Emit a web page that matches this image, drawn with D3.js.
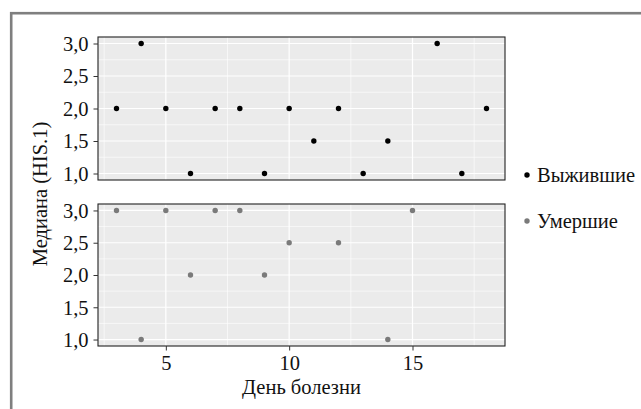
<!DOCTYPE html>
<html>
<head>
<meta charset="utf-8">
<script src="https://cdn.jsdelivr.net/npm/d3@7"></script>
<style>
  body { margin: 0; background: #fff; }
  svg { display: block; }
</style>
</head>
<body>
<script>
var width = 641,
    height = 409;

// data
const days_alive = [3, 4, 5, 6, 7, 8, 9, 10, 11, 12, 13, 14, 16, 17, 18];
const his_alive  = [2, 3, 2, 1, 2, 2, 1, 2, 1.5, 2, 1, 1.5, 3, 1, 2];
const days_dead  = [3, 4, 5, 6, 7, 8, 9, 10, 12, 14, 15];
const his_dead   = [3, 1, 3, 2, 3, 3, 2, 2.5, 2.5, 1, 3];

const groups = ["Выжившие", "Умершие"];
const colors = ["#000000", "#7a7a7a"];
const x_ticks = [5, 10, 15];
const y_ticks = [1, 1.5, 2, 2.5, 3];

const x_title = "День болезни";
const y_title = "Медиана (HIS.1)";

const FONT = "'Liberation Serif', 'Times New Roman', serif";
const FONT_SIZE = "20.5px";

const panel_left = 98, panel_right = 505;
const panels = [
    { top: 37, bottom: 180, days: days_alive, vals: his_alive },
    { top: 204, bottom: 346, days: days_dead, vals: his_dead }
];

const fmt = d3.formatLocale({ decimal: ",", thousands: " ", grouping: [3], currency: ["", ""] }).format(".1f");

const styleText = (sel) => {
    sel.style("font-family", FONT)
        .style("font-size", FONT_SIZE)
        .attr("fill", "#111");
};

const svg = d3.select("body").append("svg")
    .attr("width", width)
    .attr("height", height);

// outer frame
svg.append("rect")
    .attr("x", 11.2).attr("y", 13.2)
    .attr("width", width + 20).attr("height", height + 20)
    .attr("fill", "none")
    .attr("stroke", "#7f7f7f")
    .attr("stroke-width", 2.6);

const x = d3.scaleLinear()
    .domain([2.25, 18.75])
    .range([panel_left, panel_right]);

panels.forEach((p, i) => {
    const y = d3.scaleLinear().domain([0.9, 3.1]).range([p.bottom, p.top]);
    const g = svg.append("g");

    g.append("rect")
        .attr("x", panel_left).attr("y", p.top)
        .attr("width", panel_right - panel_left).attr("height", p.bottom - p.top)
        .attr("fill", "#ebebeb");

    // minor grid
    const x_minor = [2.5, 7.5, 12.5, 17.5];
    const y_minor = [1.25, 1.75, 2.25, 2.75];
    g.selectAll(".xminor").data(x_minor).enter().append("line")
        .attr("x1", d => x(d)).attr("x2", d => x(d))
        .attr("y1", p.top).attr("y2", p.bottom)
        .attr("stroke", "#fff").attr("stroke-width", 0.6);
    g.selectAll(".yminor").data(y_minor).enter().append("line")
        .attr("x1", panel_left).attr("x2", panel_right)
        .attr("y1", d => y(d)).attr("y2", d => y(d))
        .attr("stroke", "#fff").attr("stroke-width", 0.6);

    // major grid
    g.selectAll(".xmajor").data(x_ticks).enter().append("line")
        .attr("x1", d => x(d)).attr("x2", d => x(d))
        .attr("y1", p.top).attr("y2", p.bottom)
        .attr("stroke", "#fff").attr("stroke-width", 1.2);
    g.selectAll(".ymajor").data(y_ticks).enter().append("line")
        .attr("x1", panel_left).attr("x2", panel_right)
        .attr("y1", d => y(d)).attr("y2", d => y(d))
        .attr("stroke", "#fff").attr("stroke-width", 1.2);

    // points
    g.selectAll("circle")
        .data(p.days.map((d, k) => ({ day: d, v: p.vals[k] })))
        .enter().append("circle")
        .attr("cx", d => x(d.day))
        .attr("cy", d => y(d.v))
        .attr("r", 2.7)
        .attr("fill", colors[i]);

    g.append("rect")
        .attr("x", panel_left).attr("y", p.top)
        .attr("width", panel_right - panel_left).attr("height", p.bottom - p.top)
        .attr("fill", "none").attr("stroke", "#222").attr("stroke-width", 1.1);

    // y axis
    const ya = g.append("g")
        .attr("transform", "translate(" + panel_left + ",0)")
        .call(d3.axisLeft(y).tickValues(y_ticks).tickFormat(fmt).tickSize(4.5).tickPadding(5));
    ya.select(".domain").remove();
    ya.selectAll(".tick line").attr("stroke", "#333");
    ya.selectAll(".tick text")
        .attr("dy", "0.34em")
        .call(styleText);

    if (i == panels.length - 1) {
        const xa = g.append("g")
            .attr("transform", "translate(0," + p.bottom + ")")
            .call(d3.axisBottom(x).tickValues(x_ticks).tickSize(4.5).tickPadding(5));
        xa.select(".domain").remove();
        xa.selectAll(".tick line").attr("stroke", "#333");
        xa.selectAll(".tick text").call(styleText);
    }
});

// axis titles
svg.append("text")
    .attr("x", (panel_left + panel_right) / 2)
    .attr("y", 394)
    .attr("text-anchor", "middle")
    .text(x_title)
    .call(styleText);

svg.append("text")
    .attr("transform", "translate(46.5,194) rotate(-90)")
    .attr("text-anchor", "middle")
    .text(y_title)
    .call(styleText);

// legend
const leg_y = [175, 221];
groups.forEach((name, i) => {
    svg.append("circle")
        .attr("cx", 527).attr("cy", leg_y[i])
        .attr("r", 2.7).attr("fill", colors[i]);
    svg.append("text")
        .attr("x", 537).attr("y", leg_y[i])
        .attr("dy", "0.34em")
        .text(name)
        .call(styleText);
});
</script>
</body>
</html>
